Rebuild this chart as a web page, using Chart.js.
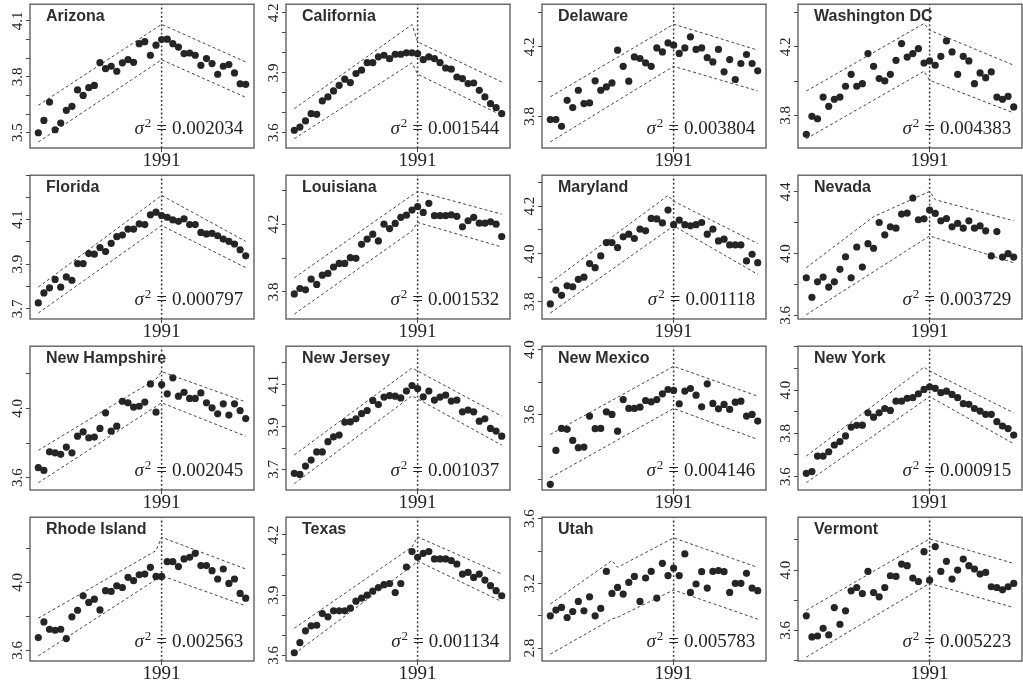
<!DOCTYPE html>
<html>
<head>
<meta charset="utf-8">
<script src="https://cdn.jsdelivr.net/npm/chart.js@4.4.0/dist/chart.umd.min.js"></script>
<style>
  html, body { margin: 0; padding: 0; background: #fff; overflow: hidden; }
  #grid { position: relative; width: 1023px; height: 686px; }
  .panel { position: absolute; width: 257px; height: 177px; }
</style>
</head>
<body>
<div id="grid"></div>
<script>
// Years on the x axis (one point per year)
const years = [1969, 1970, 1971, 1972, 1973, 1974, 1975, 1976, 1977, 1978, 1979, 1980, 1981,
  1982, 1983, 1984, 1985, 1986, 1987, 1988, 1989, 1990, 1991, 1992, 1993, 1994, 1995, 1996,
  1997, 1998, 1999, 2000, 2001, 2002, 2003, 2004, 2005, 2006];
const breakYear = 1991;
const xRange = [1967.52, 2007.48];

const stateNames = ['Arizona', 'California', 'Delaware', 'Washington DC',
  'Florida', 'Louisiana', 'Maryland', 'Nevada',
  'New Hampshire', 'New Jersey', 'New Mexico', 'New York',
  'Rhode Island', 'Texas', 'Utah', 'Vermont'];
const sigmas = ['0.002034', '0.001544', '0.003804', '0.004383',
  '0.000797', '0.001532', '0.001118', '0.003729',
  '0.002045', '0.001037', '0.004146', '0.000915',
  '0.002563', '0.001134', '0.005783', '0.005223'];

// Arizona
const arizona = [3.50, 3.566, 3.665, 3.516, 3.552, 3.62, 3.642, 3.73, 3.70, 3.742, 3.754, 3.876, 3.844, 3.857, 3.83, 3.875, 3.892, 3.878, 3.978, 3.989, 3.916, 3.97, 4.00, 4.002, 3.978, 3.96, 3.925, 3.928, 3.916, 3.862, 3.898, 3.871, 3.814, 3.857, 3.866, 3.821, 3.763, 3.76];
const arizonaUp = [[1969, 3.647], [1991, 4.082], [2006, 3.88]];
const arizonaLo = [[1969, 3.45], [1991, 3.892], [2006, 3.69]];
const arizonaY = [3.418, 4.19];
const arizonaLabels = [3.5, 3.8, 4.1];

// California
const california = [3.612, 3.628, 3.659, 3.695, 3.692, 3.759, 3.779, 3.809, 3.837, 3.868, 3.851, 3.896, 3.913, 3.951, 3.951, 3.98, 3.988, 3.971, 3.993, 3.993, 4.0, 4.0, 3.996, 3.966, 3.98, 3.971, 3.951, 3.924, 3.918, 3.879, 3.871, 3.846, 3.849, 3.812, 3.779, 3.745, 3.725, 3.695];
const californiaUp = [[1969, 3.72], [1990, 4.142], [1991, 4.055], [2006, 3.854]];
const californiaLo = [[1969, 3.57], [1990, 3.95], [1991, 3.893], [2006, 3.687]];
const californiaY = [3.523, 4.244];
const californiaLabels = [3.6, 3.9, 4.2];

// Delaware
const delaware = [3.781, 3.781, 3.742, 3.892, 3.85, 3.95, 3.873, 3.877, 4.004, 3.95, 3.969, 3.992, 4.181, 4.088, 4.002, 4.142, 4.133, 4.108, 4.088, 4.194, 4.171, 4.223, 4.21, 4.162, 4.194, 4.258, 4.185, 4.194, 4.138, 4.113, 4.185, 4.056, 4.127, 4.012, 4.104, 4.156, 4.104, 4.062];
const delawareUp = [[1969, 3.912], [1989, 4.292], [1991, 4.331], [2006, 4.181]];
const delawareLo = [[1969, 3.652], [1991, 4.088], [2006, 3.946]];
const delawareY = [3.617, 4.446];
const delawareLabels = [3.8, 4.2];

// Washington DC
const washington = [3.689, 3.794, 3.78, 3.907, 3.853, 3.894, 3.907, 3.97, 4.04, 3.97, 3.985, 4.161, 4.087, 4.015, 4.001, 4.04, 4.122, 4.22, 4.141, 4.161, 4.19, 4.106, 4.118, 4.093, 4.145, 4.235, 4.171, 4.04, 4.145, 4.118, 3.985, 4.048, 4.02, 4.054, 3.907, 3.894, 3.911, 3.849];
const washingtonUp = [[1969, 3.942], [1990, 4.337], [1991, 4.298], [2006, 4.093]];
const washingtonLo = [[1969, 3.663], [1990, 4.058], [1991, 4.005], [2006, 3.814]];
const washingtonY = [3.609, 4.45];
const washingtonLabels = [3.8, 4.2];

// Florida
const florida = [3.726, 3.771, 3.794, 3.832, 3.797, 3.843, 3.828, 3.903, 3.903, 3.948, 3.945, 3.975, 3.957, 3.994, 4.024, 4.031, 4.058, 4.058, 4.081, 4.078, 4.122, 4.134, 4.119, 4.111, 4.099, 4.093, 4.104, 4.078, 4.078, 4.043, 4.036, 4.039, 4.028, 4.013, 4.003, 3.991, 3.965, 3.938];
const floridaUp = [[1969, 3.797], [1991, 4.209], [2006, 4.003]];
const floridaLo = [[1969, 3.681], [1991, 4.074], [2006, 3.885]];
const floridaY = [3.654, 4.30];
const floridaLabels = [3.7, 3.9, 4.1];

// Louisiana
const louisiana = [3.788, 3.82, 3.812, 3.875, 3.844, 3.899, 3.909, 3.947, 3.968, 3.968, 4.002, 3.998, 4.081, 4.111, 4.141, 4.101, 4.2, 4.174, 4.204, 4.24, 4.253, 4.283, 4.303, 4.269, 4.323, 4.25, 4.25, 4.25, 4.255, 4.246, 4.184, 4.22, 4.24, 4.206, 4.206, 4.214, 4.2, 4.127];
const louisianaUp = [[1969, 3.883], [1991, 4.394], [2006, 4.259]];
const louisianaLo = [[1969, 3.669], [1990, 4.16], [1991, 4.21], [2006, 4.065]];
const louisianaY = [3.64, 4.489];
const louisianaLabels = [3.8, 4.2];

// Maryland
const maryland = [3.79, 3.848, 3.826, 3.866, 3.862, 3.893, 3.902, 3.959, 3.942, 3.991, 4.047, 4.047, 4.026, 4.071, 4.082, 4.064, 4.103, 4.096, 4.148, 4.146, 4.129, 4.183, 4.122, 4.141, 4.122, 4.117, 4.122, 4.131, 4.082, 4.103, 4.054, 4.061, 4.037, 4.037, 4.037, 3.97, 3.998, 3.963];
const marylandUp = [[1969, 3.879], [1990, 4.244], [1991, 4.22], [2006, 4.043]];
const marylandLo = [[1969, 3.752], [1991, 4.117], [2006, 3.914]];
const marylandY = [3.727, 4.329];
const marylandLabels = [3.8, 4.0, 4.2];

// Nevada
const nevada = [3.843, 3.717, 3.817, 3.848, 3.783, 3.817, 3.898, 3.98, 3.843, 4.043, 3.913, 4.065, 4.035, 4.202, 4.122, 4.174, 4.165, 4.257, 4.263, 4.361, 4.22, 4.226, 4.283, 4.261, 4.213, 4.228, 4.174, 4.196, 4.165, 4.213, 4.165, 4.18, 4.148, 3.985, 4.143, 3.978, 4.0, 3.978];
const nevadaUp = [[1969, 3.909], [1981, 4.24], [1991, 4.404], [1992, 4.35], [2006, 4.213]];
const nevadaLo = [[1969, 3.604], [1991, 4.115], [2006, 3.941]];
const nevadaY = [3.576, 4.509];
const nevadaLabels = [3.6, 4.0, 4.4];

// New Hampshire
const newHampshire = [3.658, 3.642, 3.75, 3.744, 3.735, 3.777, 3.744, 3.84, 3.865, 3.831, 3.835, 3.885, 3.975, 3.869, 3.898, 4.042, 4.033, 4.008, 4.013, 4.037, 4.142, 3.979, 4.138, 4.085, 4.177, 4.071, 4.094, 4.058, 4.058, 4.09, 4.033, 4.004, 3.969, 4.027, 3.962, 4.027, 3.988, 3.942];
const newHampshireUp = [[1969, 3.758], [1990, 4.17], [1991, 4.213], [2006, 4.038]];
const newHampshireLo = [[1969, 3.571], [1991, 4.033], [2006, 3.84]];
const newHampshireY = [3.529, 4.36];
const newHampshireLabels = [3.6, 4.0];

// New Jersey
const newJersey = [3.682, 3.677, 3.716, 3.744, 3.782, 3.782, 3.83, 3.853, 3.861, 3.922, 3.923, 3.937, 3.961, 3.976, 4.023, 4.004, 4.039, 4.046, 4.043, 4.035, 4.067, 4.093, 4.079, 4.04, 4.067, 4.025, 4.039, 4.048, 4.02, 4.025, 3.97, 3.978, 3.97, 3.926, 3.937, 3.892, 3.88, 3.856];
const newJerseyUp = [[1969, 3.768], [1990, 4.175], [2006, 3.95]];
const newJerseyLo = [[1969, 3.634], [1990, 4.045], [2006, 3.814]];
const newJerseyY = [3.604, 4.277];
const newJerseyLabels = [3.7, 3.9, 4.1];

// New Mexico
const newMexico = [3.169, 3.378, 3.514, 3.508, 3.44, 3.395, 3.399, 3.59, 3.512, 3.514, 3.616, 3.6, 3.497, 3.692, 3.637, 3.637, 3.645, 3.686, 3.678, 3.692, 3.727, 3.754, 3.748, 3.666, 3.744, 3.76, 3.719, 3.647, 3.789, 3.668, 3.635, 3.662, 3.631, 3.676, 3.682, 3.59, 3.6, 3.559];
const newMexicoUp = [[1969, 3.477], [1991, 3.897], [2006, 3.713]];
const newMexicoLo = [[1969, 3.21], [1991, 3.637], [2006, 3.446]];
const newMexicoY = [3.134, 4.021];
const newMexicoLabels = [3.6, 4.0];

// New York
const newYork = [3.615, 3.623, 3.695, 3.695, 3.715, 3.746, 3.762, 3.788, 3.829, 3.837, 3.838, 3.895, 3.875, 3.895, 3.915, 3.906, 3.949, 3.949, 3.962, 3.965, 3.983, 4.003, 4.015, 4.008, 3.988, 3.995, 3.98, 3.965, 3.937, 3.934, 3.915, 3.903, 3.888, 3.888, 3.854, 3.834, 3.822, 3.792];
const newYorkUp = [[1969, 3.695], [1990, 4.106], [1991, 4.088], [2006, 3.895]];
const newYorkLo = [[1969, 3.572], [1991, 3.97], [2006, 3.752]];
const newYorkY = [3.538, 4.203];
const newYorkLabels = [3.6, 3.8, 4.0];

// Rhode Island
const rhodeIsland = [3.675, 3.767, 3.724, 3.718, 3.724, 3.669, 3.797, 3.836, 3.921, 3.882, 3.901, 3.838, 3.951, 3.947, 3.98, 3.97, 4.03, 4.01, 4.045, 4.049, 4.089, 4.035, 4.035, 4.122, 4.122, 4.093, 4.138, 4.148, 4.171, 4.099, 4.099, 4.069, 4.02, 4.079, 3.994, 4.02, 3.935, 3.907];
const rhodeIslandUp = [[1969, 3.789], [1990, 4.187], [1991, 4.266], [2006, 4.079]];
const rhodeIslandLo = [[1969, 3.567], [1991, 4.039], [2006, 3.862]];
const rhodeIslandY = [3.537, 4.384];
const rhodeIslandLabels = [3.6, 4.0];

// Texas
const texas = [3.613, 3.663, 3.722, 3.747, 3.75, 3.808, 3.792, 3.822, 3.822, 3.822, 3.835, 3.87, 3.885, 3.9, 3.92, 3.938, 3.952, 3.958, 3.913, 3.958, 4.04, 4.117, 4.088, 4.108, 4.117, 4.08, 4.08, 4.08, 4.072, 4.055, 4.005, 4.013, 3.988, 4.005, 3.975, 3.947, 3.922, 3.897];
const texasUp = [[1969, 3.735], [1990, 4.14], [1991, 4.19], [2006, 4.005]];
const texasLo = [[1969, 3.608], [1990, 4.045], [1991, 4.07], [2006, 3.868]];
const texasY = [3.572, 4.288];
const texasLabels = [3.6, 3.9, 4.2];

// Utah
const utah = [2.999, 3.035, 3.051, 2.989, 3.026, 3.088, 3.03, 3.117, 2.999, 3.045, 3.274, 3.138, 3.175, 3.134, 3.206, 3.243, 3.088, 3.233, 3.274, 3.109, 3.324, 3.248, 3.295, 3.248, 3.382, 3.144, 3.196, 3.272, 3.171, 3.274, 3.279, 3.272, 3.144, 3.2, 3.2, 3.262, 3.171, 3.155];
const utahUp = [[1969, 3.072], [1980, 3.341], [1981, 3.299], [1991, 3.481], [2006, 3.299]];
const utahLo = [[1969, 2.762], [1980, 2.98], [1981, 2.99], [1991, 3.159], [2006, 2.979]];
const utahY = [2.72, 3.609];
const utahLabels = [2.8, 3.2, 3.6];

// Vermont
const vermont = [3.696, 3.556, 3.562, 3.613, 3.569, 3.751, 3.64, 3.729, 3.862, 3.884, 3.844, 3.991, 3.851, 3.822, 3.884, 3.962, 3.958, 4.04, 4.029, 3.947, 3.924, 4.122, 3.933, 4.156, 3.991, 4.058, 3.94, 4.0, 4.073, 4.029, 4.007, 3.973, 3.984, 3.889, 3.884, 3.869, 3.889, 3.911];
const vermontUp = [[1969, 3.733], [1991, 4.207], [2006, 4.044]];
const vermontLo = [[1969, 3.422], [1991, 3.911], [2006, 3.751]];
const vermontY = [3.396, 4.351];
const vermontLabels = [3.6, 4.0];

const seriesList = [
  [arizona, arizonaUp, arizonaLo, arizonaY, arizonaLabels],
  [california, californiaUp, californiaLo, californiaY, californiaLabels],
  [delaware, delawareUp, delawareLo, delawareY, delawareLabels],
  [washington, washingtonUp, washingtonLo, washingtonY, washingtonLabels],
  [florida, floridaUp, floridaLo, floridaY, floridaLabels],
  [louisiana, louisianaUp, louisianaLo, louisianaY, louisianaLabels],
  [maryland, marylandUp, marylandLo, marylandY, marylandLabels],
  [nevada, nevadaUp, nevadaLo, nevadaY, nevadaLabels],
  [newHampshire, newHampshireUp, newHampshireLo, newHampshireY, newHampshireLabels],
  [newJersey, newJerseyUp, newJerseyLo, newJerseyY, newJerseyLabels],
  [newMexico, newMexicoUp, newMexicoLo, newMexicoY, newMexicoLabels],
  [newYork, newYorkUp, newYorkLo, newYorkY, newYorkLabels],
  [rhodeIsland, rhodeIslandUp, rhodeIslandLo, rhodeIslandY, rhodeIslandLabels],
  [texas, texasUp, texasLo, texasY, texasLabels],
  [utah, utahUp, utahLo, utahY, utahLabels],
  [vermont, vermontUp, vermontLo, vermontY, vermontLabels]
];

const serif = '"Liberation Serif", "Times New Roman", serif';
const sans = '"Liberation Sans", Arial, sans-serif';

// Frame, title, sigma^2 note and rotated y tick labels
const panelDecor = {
  id: 'panelDecor',
  afterDraw(chart, args, opts) {
    const ctx = chart.ctx;
    const a = chart.chartArea;
    const yScale = chart.scales.y;
    ctx.save();

    ctx.strokeStyle = '#555';
    ctx.lineWidth = 1.3;
    ctx.strokeRect(a.left, a.top, a.right - a.left, a.bottom - a.top);

    ctx.fillStyle = '#2e2e2e';
    ctx.font = 'bold 16px ' + sans;
    ctx.textAlign = 'left';
    ctx.textBaseline = 'alphabetic';
    ctx.fillText(opts.title, a.left + 16, a.top + 16.7);

    // sigma^2 = value, right aligned
    const fs = 19;
    const base = a.bottom - 14.5;
    ctx.fillStyle = '#222';
    ctx.font = 'italic ' + fs + 'px ' + serif;
    const wS = ctx.measureText('σ').width;
    ctx.font = '13px ' + serif;
    const w2 = ctx.measureText('2').width;
    ctx.font = fs + 'px ' + serif;
    const wEq = ctx.measureText('=').width;
    const wNum = ctx.measureText(opts.sigma).width;
    const gap = 5;
    let x = a.right - 10.7 - (wS + 1 + w2 + gap + wEq + gap + wNum);
    ctx.font = 'italic ' + fs + 'px ' + serif;
    ctx.fillText('σ', x, base);
    x += wS + 1;
    ctx.font = '13px ' + serif;
    ctx.fillText('2', x, base - 7);
    x += w2 + gap;
    ctx.font = fs + 'px ' + serif;
    ctx.fillText('=', x, base);
    x += wEq + gap;
    ctx.fillText(opts.sigma, x, base);

    // y tick labels, parallel to the axis
    ctx.font = '15px ' + serif;
    ctx.textAlign = 'center';
    opts.labels.forEach(v => {
      const py = yScale.getPixelForValue(v);
      ctx.save();
      ctx.translate(a.left - 8.3, py);
      ctx.rotate(-Math.PI / 2);
      ctx.fillText(v.toFixed(1), 0, 0);
      ctx.restore();
    });
    ctx.restore();
  }
};

function tickMarks(range, labels) {
  const step = (labels[1] - labels[0]) > 0.35 ? 0.2 : 0.1;
  const marks = [];
  for (let k = Math.ceil(range[0] / step - 1e-6); k * step <= range[1] + 1e-6; k++) {
    marks.push(Math.round(k * step * 10) / 10);
  }
  return marks;
}

const grid = document.getElementById('grid');

seriesList.forEach(([vals, up, lo, yr, labels], i) => {
  const col = i % 4, row = Math.floor(i / 4);
  const div = document.createElement('div');
  div.className = 'panel';
  div.style.left = (1 + col * 256.1) + 'px';
  div.style.top = (row * 170.9 - 6) + 'px';
  const canvas = document.createElement('canvas');
  canvas.width = 257;
  canvas.height = 177;
  div.appendChild(canvas);
  grid.appendChild(div);

  const marks = tickMarks(yr, labels);

  new Chart(canvas, {
    type: 'scatter',
    data: {
      datasets: [
        {
          data: years.map((yv, k) => ({ x: yv, y: vals[k] })),
          pointRadius: 3.6,
          backgroundColor: '#252525',
          borderColor: '#252525',
          borderWidth: 0,
          order: 0
        },
        {
          data: up.map(p => ({ x: p[0], y: p[1] })),
          showLine: true,
          pointRadius: 0,
          borderColor: '#444',
          borderWidth: 1,
          borderDash: [3, 2.5],
          order: 1
        },
        {
          data: lo.map(p => ({ x: p[0], y: p[1] })),
          showLine: true,
          pointRadius: 0,
          borderColor: '#444',
          borderWidth: 1,
          borderDash: [3, 2.5],
          order: 1
        },
        {
          data: [{ x: breakYear, y: yr[0] }, { x: breakYear, y: yr[1] }],
          showLine: true,
          pointRadius: 0,
          borderColor: '#333',
          borderWidth: 1.5,
          borderDash: [1.8, 2.4],
          order: 2
        }
      ]
    },
    options: {
      responsive: false,
      animation: false,
      events: [],
      layout: { padding: { top: 10, left: 0, right: 0, bottom: 0 } },
      plugins: {
        legend: { display: false },
        tooltip: { enabled: false },
        panelDecor: { title: stateNames[i], sigma: sigmas[i], labels: labels }
      },
      scales: {
        x: {
          type: 'linear',
          min: xRange[0],
          max: xRange[1],
          afterBuildTicks: s => { s.ticks = [{ value: breakYear }]; },
          afterFit: s => { s.height = 23; },
          ticks: {
            callback: v => String(v),
            font: { family: serif, size: 19 },
            color: '#222',
            padding: -2,
            maxRotation: 0
          },
          grid: { drawOnChartArea: false, tickLength: 4, color: '#444' },
          border: { display: false }
        },
        y: {
          min: yr[0],
          max: yr[1],
          afterBuildTicks: s => { s.ticks = marks.map(v => ({ value: v })); },
          afterFit: s => { s.width = 29; },
          ticks: { callback: () => '' },
          grid: { drawOnChartArea: false, tickLength: 4, color: '#444' },
          border: { display: false }
        }
      }
    },
    plugins: [panelDecor]
  });
});
</script>
</body>
</html>
